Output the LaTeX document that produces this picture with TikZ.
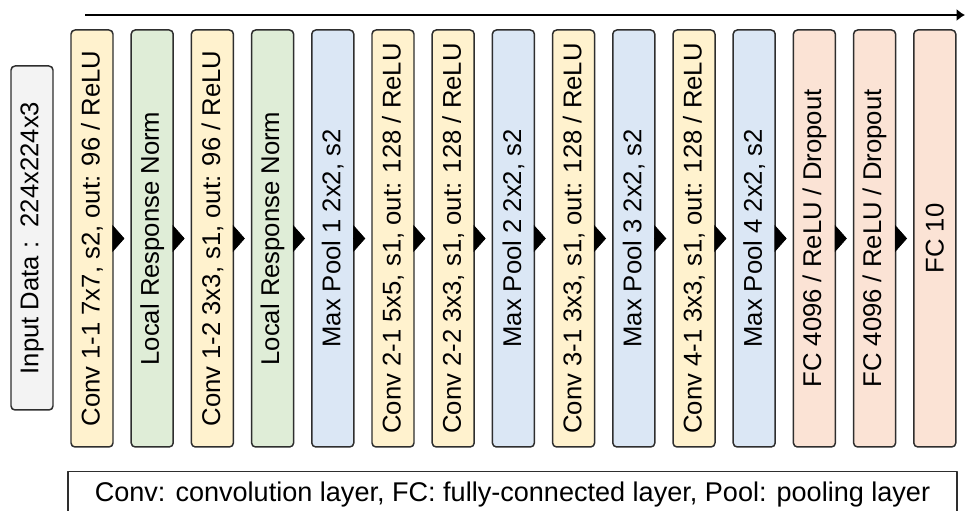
\documentclass[tikz,border=0pt]{standalone}
\usepackage{fontspec}
\setmainfont{Liberation Sans}
\usetikzlibrary{arrows.meta}

\definecolor{convfill}{HTML}{FFF2CE}
\definecolor{normfill}{HTML}{DFEDD7}
\definecolor{poolfill}{HTML}{DBE7F5}
\definecolor{fcfill}{HTML}{FBE3D5}
\definecolor{infill}{HTML}{F3F3F3}
\definecolor{edge}{HTML}{2E2E2E}

\begin{document}
\begin{tikzpicture}[line join=bevel,>=latex,
    layer/.style={draw=edge, line width=0.85pt, rounded corners=2.3pt, rotate=90,
      minimum width=8.34cm, minimum height=0.84cm, inner sep=0pt,
      font=\fontsize{14.6}{14.6}\selectfont},
    conv/.style={layer, fill=convfill},
    norm/.style={layer, fill=normfill},
    pool/.style={layer, fill=poolfill},
    fc/.style={layer, fill=fcfill},
    flow/.style={-{Triangle[length=0.24cm,width=0.54cm]}, shorten >=0.12cm}]
  \useasboundingbox (0,0) rectangle (19.3,10.22);

  \coordinate (t0) at (1.7, 9.92);
  \coordinate (t1) at (19.3, 9.92);

  \node[layer, fill=infill, minimum width=6.88cm] (input) at (0.64, 5.46) {Input Data :\ \ 224x224x3};

  \node[conv] (conv11) at (1.84, 5.45) {Conv 1-1 7x7, s2, out: 96 / ReLU};
  \node[norm] (lrn1) at (3.044, 5.45) {Local Response Norm};
  \node[conv] (conv12) at (4.248, 5.45) {Conv 1-2 3x3, s1, out: 96 / ReLU};
  \node[norm] (lrn2) at (5.452, 5.45) {Local Response Norm};
  \node[pool] (pool1) at (6.656, 5.45) {Max Pool 1 2x2, s2};
  \node[conv] (conv21) at (7.86, 5.45) {Conv 2-1 5x5, s1, out: 128 / ReLU};
  \node[conv] (conv22) at (9.064, 5.45) {Conv 2-2 3x3, s1, out: 128 / ReLU};
  \node[pool] (pool2) at (10.268, 5.45) {Max Pool 2 2x2, s2};
  \node[conv] (conv31) at (11.472, 5.45) {Conv 3-1 3x3, s1, out: 128 / ReLU};
  \node[pool] (pool3) at (12.676, 5.45) {Max Pool 3 2x2, s2};
  \node[conv] (conv41) at (13.88, 5.45) {Conv 4-1 3x3, s1, out: 128 / ReLU};
  \node[pool] (pool4) at (15.084, 5.45) {Max Pool 4 2x2, s2};
  \node[fc] (fc1) at (16.288, 5.45) {FC 4096 / ReLU / Dropout};
  \node[fc] (fc2) at (17.492, 5.45) {FC 4096 / ReLU / Dropout};
  \node[fc] (fc3) at (18.696, 5.45) {FC 10};

  \draw[flow] (conv11) -- (lrn1);
  \draw[flow] (lrn1) -- (conv12);
  \draw[flow] (conv12) -- (lrn2);
  \draw[flow] (lrn2) -- (pool1);
  \draw[flow] (pool1) -- (conv21);
  \draw[flow] (conv21) -- (conv22);
  \draw[flow] (conv22) -- (pool2);
  \draw[flow] (pool2) -- (conv31);
  \draw[flow] (conv31) -- (pool3);
  \draw[flow] (pool3) -- (conv41);
  \draw[flow] (conv41) -- (pool4);
  \draw[flow] (pool4) -- (fc1);
  \draw[flow] (fc1) -- (fc2);
  \draw[flow] (fc2) -- (fc3);

  \draw[line width=1.4pt, -{Latex[length=0.17cm,width=0.25cm]}] (t0) -- (t1);

  % legend
  \node[draw=edge, line width=0.7pt, minimum width=17.78cm, minimum height=0.92cm, inner sep=0pt,
    font=\fontsize{15.4}{15.4}\selectfont] (legend) at (10.25, 0.33)
    {Conv: convolution layer, FC: fully-connected layer, Pool: pooling layer};
\end{tikzpicture}
\end{document}
